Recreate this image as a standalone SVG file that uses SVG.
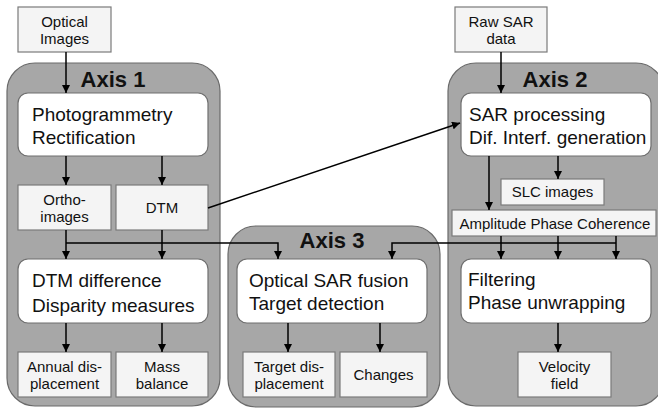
<svg xmlns="http://www.w3.org/2000/svg" width="658" height="408" viewBox="0 0 658 408">
<defs>
<style>
.panel{fill:#a7a7a7;stroke:#6a6a6a;stroke-width:1.2}
.main{fill:#ffffff;stroke:#6f6f6f;stroke-width:1.2}
.small{fill:#f4f4f4;stroke:#7a7a7a;stroke-width:1.2}
.t{font-family:"Liberation Sans",Arial,sans-serif;fill:#111}
.big{font-size:19px}
.sm{font-size:15px;text-anchor:middle}
.ax{font-size:22px;font-weight:bold;text-anchor:middle}
.c{fill:none;stroke:#000;stroke-width:1.5}
</style>
<marker id="ah" viewBox="0 0 10 10" refX="10" refY="5" markerWidth="8" markerHeight="8" markerUnits="userSpaceOnUse" orient="auto"><path d="M0,0L10,5L0,10z" fill="#000"/></marker>
</defs>
<rect width="658" height="408" fill="#fff"/>
<g id="axis1"><rect class="panel" x="7" y="63" width="213" height="343" rx="28"/><text class="t ax" x="113" y="87">Axis 1</text></g>
<g id="axis2"><rect class="panel" x="448" y="63" width="216" height="343" rx="28"/><text class="t ax" x="555" y="87">Axis 2</text></g>
<g id="axis3"><rect class="panel" x="228" y="226" width="212" height="181" rx="28"/><text class="t ax" x="332" y="248">Axis 3</text></g>

<g id="optical"><rect class="small" x="18" y="7" width="93" height="45"/><text class="t sm" x="64.5" y="27">Optical</text><text class="t sm" x="64.5" y="44">Images</text></g>
<g id="rawsar"><rect class="small" x="455" y="7" width="92" height="45"/><text class="t sm" x="501" y="27">Raw SAR</text><text class="t sm" x="501" y="44">data</text></g>

<g id="photo"><rect class="main" x="18" y="93" width="190" height="63" rx="10"/><text class="t big" x="32" y="121">Photogrammetry</text><text class="t big" x="32" y="144">Rectification</text></g>
<g id="ortho"><rect class="small" x="18" y="185" width="93" height="45"/><text class="t sm" x="64.5" y="205">Ortho-</text><text class="t sm" x="64.5" y="222">images</text></g>
<g id="dtm"><rect class="small" x="116" y="185" width="92" height="45"/><text class="t sm" x="162" y="213">DTM</text></g>
<g id="dtmdiff"><rect class="main" x="18" y="259" width="190" height="64" rx="10"/><text class="t big" x="32" y="287">DTM difference</text><text class="t big" x="32" y="312">Disparity measures</text></g>
<g id="annual"><rect class="small" x="18" y="352" width="93" height="45"/><text class="t sm" x="64.5" y="372">Annual dis-</text><text class="t sm" x="64.5" y="389">placement</text></g>
<g id="mass"><rect class="small" x="116" y="352" width="92" height="45"/><text class="t sm" x="162" y="372">Mass</text><text class="t sm" x="162" y="389">balance</text></g>

<g id="sarproc"><rect class="main" x="461" y="93" width="190" height="63" rx="10"/><text class="t big" x="469" y="121">SAR processing</text><text class="t big" x="469" y="144">Dif. Interf. generation</text></g>
<g id="slc"><rect class="small" x="501" y="179" width="103" height="26"/><text class="t sm" x="552.5" y="197">SLC images</text></g>
<g id="amp"><rect class="small" x="452" y="210" width="204" height="26"/><text class="t sm" x="555" y="229">Amplitude Phase Coherence</text></g>
<g id="filter"><rect class="main" x="461" y="259" width="190" height="64" rx="10"/><text class="t big" x="468" y="286">Filtering</text><text class="t big" x="468" y="309">Phase unwrapping</text></g>
<g id="velocity"><rect class="small" x="518" y="352" width="93" height="45"/><text class="t sm" x="564.5" y="372">Velocity</text><text class="t sm" x="564.5" y="389">field</text></g>

<g id="fusion"><rect class="main" x="237" y="259" width="190" height="64" rx="10"/><text class="t big" x="249" y="287">Optical SAR fusion</text><text class="t big" x="249" y="310">Target detection</text></g>
<g id="targetdisp"><rect class="small" x="243" y="352" width="92" height="45"/><text class="t sm" x="289" y="372">Target dis-</text><text class="t sm" x="289" y="389">placement</text></g>
<g id="changes"><rect class="small" x="340" y="352" width="87" height="45"/><text class="t sm" x="383.5" y="380">Changes</text></g>

<g id="connectors">
<path class="c" d="M66,52V93" marker-end="url(#ah)"/>
<path class="c" d="M501,52V93" marker-end="url(#ah)"/>
<path class="c" d="M66,156V185" marker-end="url(#ah)"/>
<path class="c" d="M162,156V185" marker-end="url(#ah)"/>
<path class="c" d="M66,230V259" marker-end="url(#ah)"/>
<path class="c" d="M162,230V259" marker-end="url(#ah)"/>
<path class="c" d="M66,243H278V259" marker-end="url(#ah)"/>
<path class="c" d="M208,208L460,123" marker-end="url(#ah)"/>
<path class="c" d="M489,156V210" marker-end="url(#ah)"/>
<path class="c" d="M558,156V179" marker-end="url(#ah)"/>
<path class="c" d="M501,236V259" marker-end="url(#ah)"/>
<path class="c" d="M558,236V259" marker-end="url(#ah)"/>
<path class="c" d="M616,236V259" marker-end="url(#ah)"/>
<path class="c" d="M616,243H392V259" marker-end="url(#ah)"/>
<path class="c" d="M66,323V352" marker-end="url(#ah)"/>
<path class="c" d="M162,323V352" marker-end="url(#ah)"/>
<path class="c" d="M288,323V352" marker-end="url(#ah)"/>
<path class="c" d="M380,323V352" marker-end="url(#ah)"/>
<path class="c" d="M558,323V352" marker-end="url(#ah)"/>
</g>
</svg>
